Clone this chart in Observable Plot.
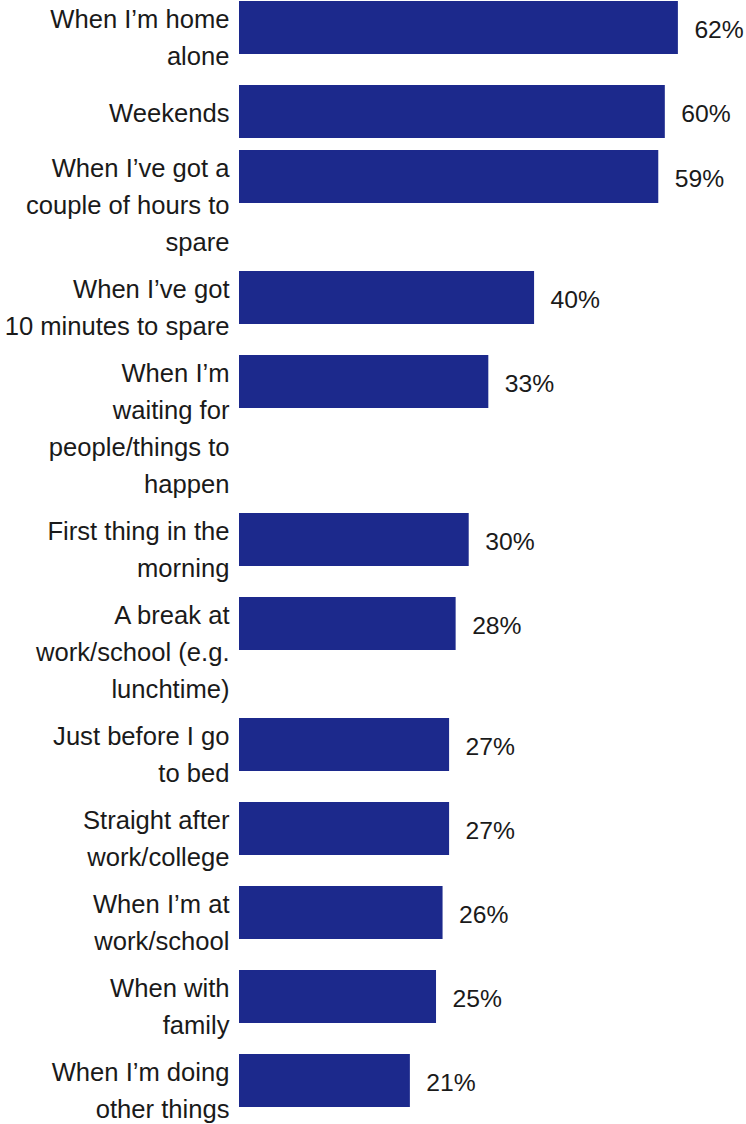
<!DOCTYPE html>
<html>
<head>
<meta charset="utf-8">
<script src="https://cdn.jsdelivr.net/npm/d3@7"></script>
<script src="https://cdn.jsdelivr.net/npm/@observablehq/plot@0.6"></script>
<style>
  html, body { margin: 0; padding: 0; background: #ffffff; }
  #chart svg { display: block; overflow: visible; font-family: "Liberation Sans", Arial, sans-serif; }
  #chart svg text { font-family: "Liberation Sans", Arial, sans-serif; }
</style>
</head>
<body>
<div id="chart"></div>
<script>
// ---- data ----
const categories = [
  "When I’m home\nalone",
  "Weekends",
  "When I’ve got a\ncouple of hours to\nspare",
  "When I’ve got\n10 minutes to spare",
  "When I’m\nwaiting for\npeople/things to\nhappen",
  "First thing in the\nmorning",
  "A break at\nwork/school (e.g.\nlunchtime)",
  "Just before I go\nto bed",
  "Straight after\nwork/college",
  "When I’m at\nwork/school",
  "When with\nfamily",
  "When I’m doing\nother things"
];
const values = [62, 60, 59, 40, 33, 30, 28, 27, 27, 26, 25, 21];

// ---- layout (style) ----
const W = 746, H = 1124;
const barH = 53, lineStep = 37, gap = 10, minSlot = 55, startY = 1;
const labelSize = 25.6, valueSize = 24.7;
const barColor = "#1c298c", textColor = "#1a1a1a";
const fontStack = "Liberation Sans, Arial, sans-serif";
const xDomain = [-5.14, 72.42];

let cursor = startY;
const rows = categories.map((label, i) => {
  const n = label.split("\n").length;
  const top = cursor;
  cursor += Math.max(n * lineStep, minSlot) + gap;
  return {label, value: values[i], n, top, bottom: top + barH, mid: top + barH / 2, base: xDomain[0]};
});

const chart = Plot.plot({
  width: W,
  height: H,
  marginLeft: 239,
  marginRight: 0,
  marginTop: 0,
  marginBottom: 0,
  style: {background: "#ffffff"},
  x: {domain: xDomain, axis: null},
  y: {domain: [0, H], range: [0, H], axis: null},
  marks: [
    Plot.rectX(rows, {x1: "base", x2: "value", y1: "top", y2: "bottom", fill: barColor}),
    Plot.text(rows.filter(d => d.n > 1), {
      x: "base", y: "top", text: "label", textAnchor: "end", lineAnchor: "top",
      dx: -10, fontSize: labelSize, lineHeight: lineStep / labelSize, fill: textColor, fontFamily: fontStack
    }),
    Plot.text(rows.filter(d => d.n === 1), {
      x: "base", y: "mid", text: "label", textAnchor: "end", lineAnchor: "middle",
      dx: -10, fontSize: labelSize, lineHeight: 1.2, fill: textColor, fontFamily: fontStack
    }),
    Plot.text(rows, {
      x: "value", y: "mid", text: d => d.value + "%", textAnchor: "start", lineAnchor: "middle",
      dx: 16, fontSize: valueSize, lineHeight: 1.2, fill: textColor, fontFamily: fontStack
    })
  ]
});
document.getElementById("chart").appendChild(chart);
</script>
</body>
</html>
